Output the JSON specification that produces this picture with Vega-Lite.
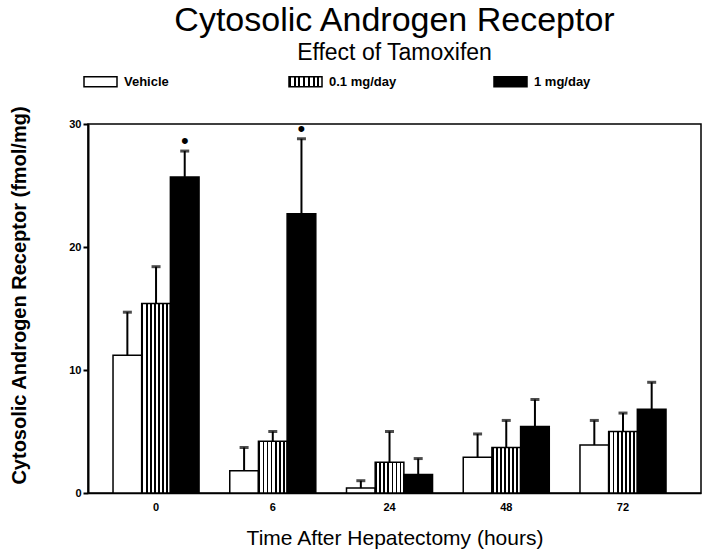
{
  "$schema": "https://vega.github.io/schema/vega-lite/v6.json",
  "width": 613,
  "height": 369,
  "autosize": "none",
  "padding": {"left": 88, "top": 124, "right": 11, "bottom": 59},
  "background": "white",
  "config": {
    "font": "Liberation Sans",
    "view": {"stroke": "black", "strokeWidth": 1.5},
    "axis": {"grid": false, "domainColor": "black", "tickColor": "black", "labelColor": "black", "titleColor": "black"}
  },
  "title": {
    "text": "Cytosolic Androgen Receptor",
    "subtitle": "Effect of Tamoxifen",
    "fontSize": 34,
    "fontWeight": "normal",
    "subtitleFontSize": 23,
    "subtitleColor": "black",
    "color": "black",
    "subtitlePadding": 4,
    "anchor": "middle",
    "offset": -1
  },
  "data": {
    "values": [
      {"time": "0", "dose": "Vehicle", "mean": 11.2, "upper": 14.7, "sig": false},
      {"time": "0", "dose": "0.1 mg/day", "mean": 15.4, "upper": 18.4, "sig": false},
      {"time": "0", "dose": "1 mg/day", "mean": 25.7, "upper": 27.8, "sig": true},
      {"time": "6", "dose": "Vehicle", "mean": 1.8, "upper": 3.7, "sig": false},
      {"time": "6", "dose": "0.1 mg/day", "mean": 4.2, "upper": 5.0, "sig": false},
      {"time": "6", "dose": "1 mg/day", "mean": 22.7, "upper": 28.8, "sig": true},
      {"time": "24", "dose": "Vehicle", "mean": 0.4, "upper": 1.0, "sig": false},
      {"time": "24", "dose": "0.1 mg/day", "mean": 2.5, "upper": 5.0, "sig": false},
      {"time": "24", "dose": "1 mg/day", "mean": 1.5, "upper": 2.8, "sig": false},
      {"time": "48", "dose": "Vehicle", "mean": 2.9, "upper": 4.8, "sig": false},
      {"time": "48", "dose": "0.1 mg/day", "mean": 3.7, "upper": 5.9, "sig": false},
      {"time": "48", "dose": "1 mg/day", "mean": 5.4, "upper": 7.6, "sig": false},
      {"time": "72", "dose": "Vehicle", "mean": 3.9, "upper": 5.9, "sig": false},
      {"time": "72", "dose": "0.1 mg/day", "mean": 5.0, "upper": 6.5, "sig": false},
      {"time": "72", "dose": "1 mg/day", "mean": 6.8, "upper": 9.0, "sig": false}
    ]
  },
  "encoding": {
    "x": {
      "field": "time", "type": "ordinal", "sort": ["0", "6", "24", "48", "72"],
      "scale": {"paddingInner": 0.263, "paddingOuter": 0.257, "align": 0.417},
      "axis": {"title": "Time After Hepatectomy (hours)", "labelAngle": 0, "labelFontSize": 11, "labelFontWeight": "bold", "ticks": false, "labelPadding": 8, "titleFontSize": 21, "titleFontWeight": "normal", "titlePadding": 15, "domainWidth": 1.5}
    },
    "xOffset": {
      "field": "dose", "type": "nominal", "sort": ["Vehicle", "0.1 mg/day", "1 mg/day"],
      "scale": {"paddingInner": 0, "paddingOuter": 0}
    }
  },
  "layer": [
    {
      "mark": {
        "type": "bar", "strokeWidth": 1.5,
        "fill": {"expr": "(datum.dose || datum.value) === 'Vehicle' ? 'white' : (datum.dose || datum.value) === '1 mg/day' ? 'black' : {gradient: 'linear', x1: 0, y1: 0, x2: 1, y2: 0, stops: [{offset: 0, color: 'black'}, {offset: 0.06, color: 'black'}, {offset: 0.06, color: 'white'}, {offset: 0.143, color: 'white'}, {offset: 0.143, color: 'black'}, {offset: 0.203, color: 'black'}, {offset: 0.203, color: 'white'}, {offset: 0.286, color: 'white'}, {offset: 0.286, color: 'black'}, {offset: 0.346, color: 'black'}, {offset: 0.346, color: 'white'}, {offset: 0.429, color: 'white'}, {offset: 0.429, color: 'black'}, {offset: 0.489, color: 'black'}, {offset: 0.489, color: 'white'}, {offset: 0.571, color: 'white'}, {offset: 0.571, color: 'black'}, {offset: 0.631, color: 'black'}, {offset: 0.631, color: 'white'}, {offset: 0.714, color: 'white'}, {offset: 0.714, color: 'black'}, {offset: 0.774, color: 'black'}, {offset: 0.774, color: 'white'}, {offset: 0.857, color: 'white'}, {offset: 0.857, color: 'black'}, {offset: 0.917, color: 'black'}, {offset: 0.917, color: 'white'}, {offset: 1, color: 'white'}]}"}
      },
      "encoding": {
        "y": {
          "field": "mean", "type": "quantitative",
          "scale": {"domain": [0, 30], "nice": false},
          "axis": {"title": "Cytosolic Androgen Receptor (fmol/mg)", "values": [0, 10, 20, 30], "labelFontSize": 11, "labelFontWeight": "bold", "tickSize": 5, "tickWidth": 2, "domainWidth": 2, "titleFontSize": 20, "titleFontWeight": "bold", "titlePadding": 39, "titleY": 171}
        },
        "stroke": {
          "field": "dose", "type": "nominal", "sort": ["Vehicle", "0.1 mg/day", "1 mg/day"],
          "scale": {"domain": ["Vehicle", "0.1 mg/day", "1 mg/day"], "range": ["black", "black", "black"]},
          "legend": {
            "title": null, "orient": "none", "legendX": -5, "legendY": -60, "direction": "horizontal",
            "symbolType": "M-1,-0.3H1V0.3H-1Z", "symbolSize": 1089, "symbolStrokeWidth": 1.5,
            "labelFontSize": 13, "labelFontWeight": "bold", "labelColor": "black", "labelOffset": 6,
            "gridAlign": "all", "columnPadding": 94,
            "encode": {
              "symbols": {
                "stroke": {"value": "black"},
                "strokeWidth": {"value": 1.5}
              }
            }
          }
        }
      }
    },
    {
      "mark": {"type": "rule", "color": "black", "strokeWidth": 2},
      "encoding": {"y": {"field": "mean", "type": "quantitative"}, "y2": {"field": "upper"}}
    },
    {
      "mark": {"type": "tick", "color": "black", "thickness": 3, "size": 9, "orient": "horizontal"},
      "encoding": {"y": {"field": "upper", "type": "quantitative"}}
    },
    {
      "transform": [{"filter": "datum.sig"}],
      "mark": {"type": "text", "text": "•", "fontSize": 22, "baseline": "middle", "dy": -10, "color": "black"},
      "encoding": {"y": {"field": "upper", "type": "quantitative"}}
    }
  ]
}
